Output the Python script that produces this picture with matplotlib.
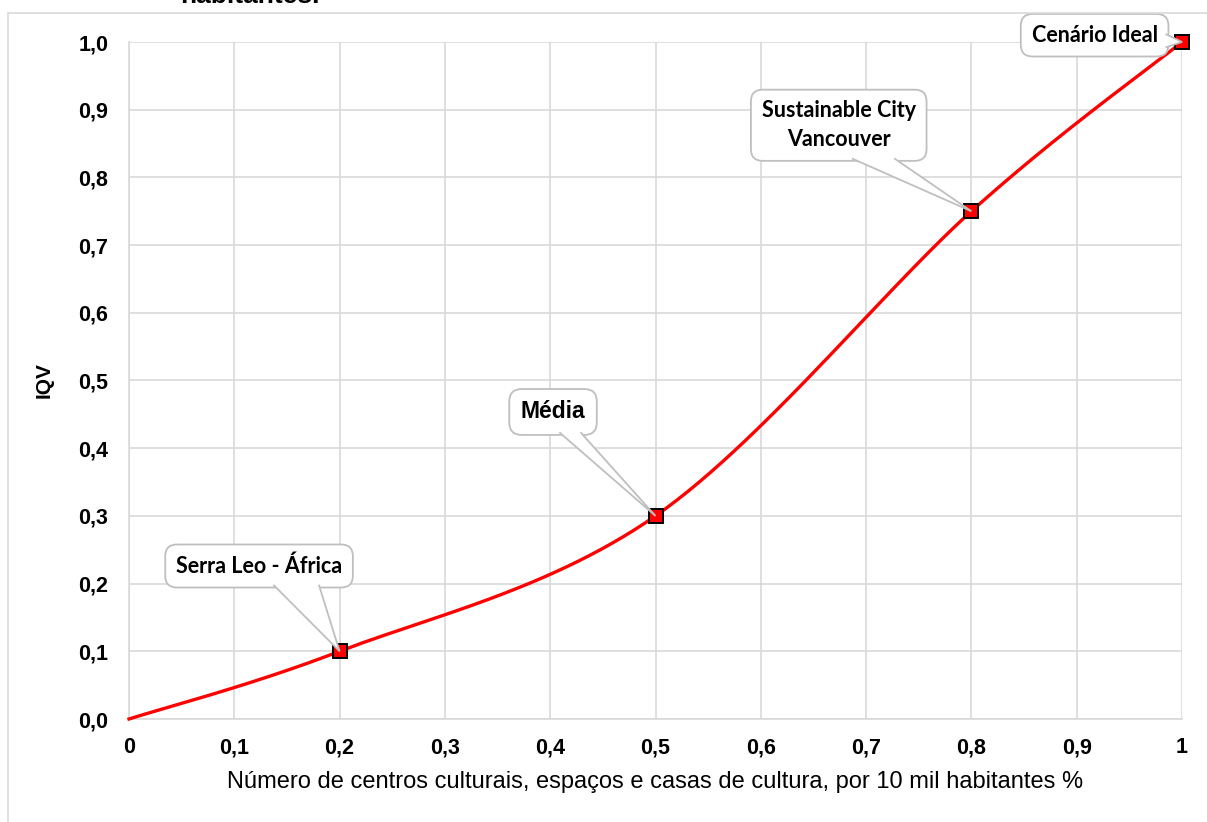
import numpy as np
import matplotlib
matplotlib.use("Agg")
import matplotlib.pyplot as plt
from matplotlib.patches import Rectangle, Polygon

# ---- data ----
x_vals = [0.0, 0.2, 0.5, 0.8, 1.0]
y_vals = [0.0, 0.1, 0.3, 0.75, 1.0]
marker_idx = [1, 2, 3, 4]
labels = ["Serra Leo - África", "Média", "Sustainable City\nVancouver", "Cenário Ideal"]
label_pos = [(0.1235, 0.226), (0.4027, 0.4535), (0.674, 0.877), (0.917, 1.010)]
label_font = ["Lato", "Liberation Sans", "Lato", "Lato"]
label_size = [15.5, 16.5, 15.5, 15.5]
x_ticks = [0, 0.1, 0.2, 0.3, 0.4, 0.5, 0.6, 0.7, 0.8, 0.9, 1.0]
x_ticklabels = ["0", "0,1", "0,2", "0,3", "0,4", "0,5", "0,6", "0,7", "0,8", "0,9", "1"]
y_ticks = [0, 0.1, 0.2, 0.3, 0.4, 0.5, 0.6, 0.7, 0.8, 0.9, 1.0]
y_ticklabels = ["0,0", "0,1", "0,2", "0,3", "0,4", "0,5", "0,6", "0,7", "0,8", "0,9", "1,0"]
x_label = "Número de centros culturais, espaços e casas de cultura, por 10 mil habitantes %"
y_label = "IQV"
title_fragment = "habitantes."


def smooth(xs, ys, n=60):
    """Excel-like smoothed line (Catmull-Rom Bezier)."""
    P = np.column_stack([xs, ys]).astype(float)
    out = []
    for i in range(len(P) - 1):
        p0 = P[i - 1] if i > 0 else P[i]
        p1, p2 = P[i], P[i + 1]
        p3 = P[i + 2] if i + 2 < len(P) else P[i + 1]
        c1 = p1 + (p2 - p0) / 6.0
        c2 = p2 - (p3 - p1) / 6.0
        t = np.linspace(0, 1, n)[:, None]
        seg = ((1 - t) ** 3) * p1 + 3 * ((1 - t) ** 2) * t * c1 + 3 * (1 - t) * t ** 2 * c2 + t ** 3 * p2
        out.append(seg if i == 0 else seg[1:])
    s = np.vstack(out)
    return s[:, 0], s[:, 1]


fig = plt.figure(figsize=(12.07, 8.22), dpi=100)
fig.patch.set_facecolor("white")

# outer chart frame
fig.patches.append(Rectangle((8 / 1207, -0.05), 1.2, 1 - 13 / 822 + 0.05,
                             transform=fig.transFigure, fill=False,
                             edgecolor="#d9d9d9", linewidth=1.2))
fig.text(180 / 1207, 1 - 3 / 822, title_fragment, fontsize=19, fontweight="bold",
         family="Liberation Sans", va="baseline", ha="left")

ax = fig.add_axes([129 / 1207, 1 - 719 / 822, 1053 / 1207, 677 / 822])
ax.set_xlim(0, 1)
ax.set_ylim(0, 1)

sx, sy = smooth(x_vals, y_vals)
ax.plot(sx, sy, color="#ff0000", linewidth=2.4, zorder=3, clip_on=False)
ax.plot([x_vals[i] for i in marker_idx], [y_vals[i] for i in marker_idx],
        linestyle="none", marker="s", markersize=10, markerfacecolor="#ff0000",
        markeredgecolor="black", markeredgewidth=1.4, zorder=4, clip_on=False)

ax.set_xticks(x_ticks)
ax.set_xticklabels(x_ticklabels)
ax.set_yticks(y_ticks)
ax.set_yticklabels(y_ticklabels)
ax.grid(True, color="#d9d9d9", linewidth=1.2)
ax.set_axisbelow(True)
for s in ["top", "right"]:
    ax.spines[s].set_visible(False)
for s in ["left", "bottom"]:
    ax.spines[s].set_color("#d9d9d9")
    ax.spines[s].set_linewidth(1.2)
ax.tick_params(length=0, labelsize=15.5)
ax.tick_params(axis="y", pad=15)
ax.tick_params(axis="x", pad=13)
for lab in ax.get_xticklabels() + ax.get_yticklabels():
    lab.set_fontweight("bold")
    lab.set_family("Liberation Sans")

ax.set_xlabel(x_label, fontsize=17, family="Liberation Sans", labelpad=9)
ax.set_ylabel(y_label, fontsize=15, family="Liberation Sans", fontweight="bold", labelpad=18)

texts = []
for idx, lab, pos, fam, fs in zip(marker_idx, labels, label_pos, label_font, label_size):
    t = ax.text(pos[0], pos[1], lab, ha="center", va="center", fontsize=fs,
                fontweight="bold", family=fam, linespacing=1.45, zorder=6, clip_on=False,
                bbox=dict(boxstyle="round,pad=0.5,rounding_size=0.55", fc="white",
                          ec="#bfbfbf", lw=1.3))
    texts.append((t, idx))

fig.canvas.draw()
renderer = fig.canvas.get_renderer()
inv = ax.transData.inverted()
for t, idx in texts:
    bb = t.get_bbox_patch().get_window_extent(renderer)
    tip = ax.transData.transform((x_vals[idx], y_vals[idx]))
    if tip[1] < bb.y0:  # pointer from bottom edge
        yb = bb.y0 + 2
        b1 = (bb.x0 + 0.58 * bb.width, yb)
        b2 = (bb.x0 + 0.82 * bb.width, yb)
    else:  # pointer from right edge
        xb = bb.x1 - 2
        b1 = (xb, bb.y0 + 0.22 * bb.height)
        b2 = (xb, bb.y0 + 0.52 * bb.height)
    pts_disp = np.array([b1, tip, b2])
    pts = inv.transform(pts_disp)
    ax.add_patch(Polygon(pts, closed=True, facecolor="white", edgecolor="none",
                         zorder=7, clip_on=False))
    ax.plot(pts[:, 0], pts[:, 1], color="#bfbfbf", lw=1.3, zorder=7.5,
            clip_on=False, solid_joinstyle="miter")

fig.savefig("out.png", dpi=100, facecolor="white")
